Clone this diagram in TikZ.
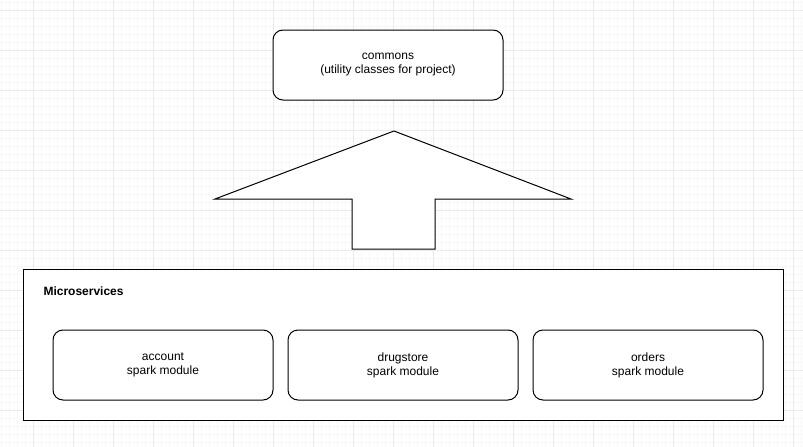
\documentclass[tikz,border=0pt]{standalone}
\usepackage{fontspec}
\setmainfont{Liberation Sans}
\usetikzlibrary{positioning}

\definecolor{gridminor}{HTML}{F8F8F8}
\definecolor{gridmajor}{HTML}{EBEBEB}

\tikzset{
    module/.style={draw, rounded corners=10pt, line width=1pt, fill=white,
        minimum width=230pt, minimum height=70pt, align=center,
        font=\fontsize{12pt}{14pt}\selectfont},
}

\begin{document}
\begin{tikzpicture}[x=1pt, y=-1pt]
    \useasboundingbox (0,0) rectangle (803,447);

    % Background grid
    \foreach \x in {1,9,...,801} {
        \draw[gridminor, line width=0.6pt] (\x,0) -- (\x,447);
    }
    \foreach \y in {2,10,...,442} {
        \draw[gridminor, line width=0.6pt] (0,\y) -- (803,\y);
    }
    \foreach \x in {33,73,...,793} {
        \draw[gridmajor, line width=0.8pt] (\x,0) -- (\x,447);
    }
    \foreach \y in {10,50,...,442} {
        \draw[gridmajor, line width=0.8pt] (0,\y) -- (803,\y);
    }

    % Top module
    \node[module] (commons) at (388, 65) {commons\\(utility classes for project)};

    % Big arrow pointing up
    \coordinate (ArrowTip) at (394, 131);
    \draw[line width=1pt, fill=white] (ArrowTip) -- (571, 199) -- (435, 199)
        -- (435, 249) -- (352, 249) -- (352, 199) -- (215, 199) -- cycle;

    % Microservices container
    \node[draw, line width=1pt, fill=white, minimum width=760pt, minimum height=151pt,
        anchor=north west] (micro) at (23, 269) {};
    \node[anchor=west, font=\fontsize{12pt}{14pt}\selectfont\bfseries]
        (microlabel) at (40, 291) {Microservices};

    % Modules inside the container
    \node[module, minimum width=220pt] (account) at (163, 365) {account\\spark module};
    \node[module] (drugstore) at (403, 365) {drugstore\\spark module};
    \node[module] (orders) at (648, 365) {orders\\spark module};

\end{tikzpicture}
\end{document}
